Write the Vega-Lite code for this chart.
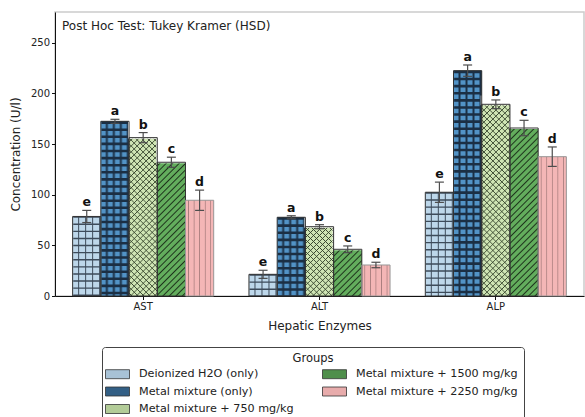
{
  "$schema": "https://vega.github.io/schema/vega-lite/v6.json",
  "width": 529,
  "height": 284,
  "autosize": {"type": "none"},
  "padding": {"left": 55, "top": 12, "right": 1, "bottom": 121},
  "background": "white",
  "title": {
    "text": "Post Hoc Test: Tukey Kramer (HSD)",
    "anchor": "start",
    "frame": "group",
    "offset": -30,
    "dx": 7,
    "baseline": "alphabetic",
    "fontSize": 12,
    "fontWeight": "normal",
    "color": "#222222"
  },
  "config": {
    "font": "DejaVu Sans",
    "view": {"stroke": "#cccccc", "strokeWidth": 1.5},
    "axis": {
      "zindex": 1,
      "domainColor": "#111111",
      "tickColor": "#111111",
      "labelColor": "#222222",
      "titleColor": "#222222",
      "labelFontSize": 10,
      "titleFontSize": 12,
      "titleFontWeight": "normal",
      "tickSize": 3.5,
      "labelPadding": 2,
      "grid": false
    },
    "legend": {
      "orient": "none",
      "legendX": 47,
      "legendY": 335,
      "columns": 2,
      "titleAnchor": "middle",
      "titleFontSize": 11.5,
      "titleFontWeight": "normal",
      "titleColor": "#222222",
      "titlePadding": 3,
      "labelFontSize": 11.2,
      "labelColor": "#222222",
      "labelLimit": 300,
      "labelOffset": 18,
      "symbolType": "M-1.5,-0.75H2.5V0.75H-1.5Z",
      "symbolSize": 144,
      "symbolStrokeColor": "#333333",
      "symbolStrokeWidth": 0.8,
      "symbolOpacity": 1,
      "columnPadding": 26,
      "rowPadding": 4.5,
      "padding": 6,
      "strokeColor": "#444444",
      "cornerRadius": 3,
      "fillColor": "white"
    }
  },
  "data": {
    "values": [
      {"enzyme": "AST", "group": "Deionized H2O (only)", "mean": 78.5, "lo": 72.5, "hi": 84.5, "letter": "e"},
      {"enzyme": "AST", "group": "Metal mixture (only)", "mean": 172.4, "lo": 170.4, "hi": 174.4, "letter": "a"},
      {"enzyme": "AST", "group": "Metal mixture + 750 mg/kg", "mean": 156.3, "lo": 151.3, "hi": 161.3, "letter": "b"},
      {"enzyme": "AST", "group": "Metal mixture + 1500 mg/kg", "mean": 132.0, "lo": 127.0, "hi": 137.0, "letter": "c"},
      {"enzyme": "AST", "group": "Metal mixture + 2250 mg/kg", "mean": 94.5, "lo": 84.5, "hi": 104.5, "letter": "d"},
      {"enzyme": "ALT", "group": "Deionized H2O (only)", "mean": 21.4, "lo": 17.4, "hi": 25.4, "letter": "e"},
      {"enzyme": "ALT", "group": "Metal mixture (only)", "mean": 77.7, "lo": 76.2, "hi": 79.2, "letter": "a"},
      {"enzyme": "ALT", "group": "Metal mixture + 750 mg/kg", "mean": 68.4, "lo": 66.4, "hi": 70.4, "letter": "b"},
      {"enzyme": "ALT", "group": "Metal mixture + 1500 mg/kg", "mean": 46.1, "lo": 42.8, "hi": 49.4, "letter": "c"},
      {"enzyme": "ALT", "group": "Metal mixture + 2250 mg/kg", "mean": 30.6, "lo": 27.9, "hi": 33.3, "letter": "d"},
      {"enzyme": "ALP", "group": "Deionized H2O (only)", "mean": 102.4, "lo": 92.4, "hi": 112.4, "letter": "e"},
      {"enzyme": "ALP", "group": "Metal mixture (only)", "mean": 222.4, "lo": 216.8, "hi": 228.0, "letter": "a"},
      {"enzyme": "ALP", "group": "Metal mixture + 750 mg/kg", "mean": 189.2, "lo": 184.9, "hi": 193.5, "letter": "b"},
      {"enzyme": "ALP", "group": "Metal mixture + 1500 mg/kg", "mean": 165.8, "lo": 158.2, "hi": 173.4, "letter": "c"},
      {"enzyme": "ALP", "group": "Metal mixture + 2250 mg/kg", "mean": 137.5, "lo": 127.9, "hi": 147.1, "letter": "d"}
    ]
  },
  "encoding": {
    "x": {
      "field": "enzyme",
      "type": "nominal",
      "sort": ["AST", "ALT", "ALP"],
      "scale": {"paddingInner": 0.2, "paddingOuter": 0.1},
      "axis": {"title": "Hepatic Enzymes", "labelAngle": 0, "titlePadding": 9}
    },
    "xOffset": {
      "field": "group",
      "type": "nominal",
      "scale": {
        "domain": ["Deionized H2O (only)", "Metal mixture (only)", "Metal mixture + 750 mg/kg", "Metal mixture + 1500 mg/kg", "Metal mixture + 2250 mg/kg"],
        "paddingInner": 0,
        "paddingOuter": 0
      }
    }
  },
  "layer": [
    {
      "mark": {"type": "bar"},
      "encoding": {
        "y": {
          "field": "mean",
          "type": "quantitative",
          "scale": {"domain": [0, 280.3], "nice": false},
          "axis": {"title": "Concentration (U/l)", "values": [0, 50, 100, 150, 200, 250], "titlePadding": 8}
        },
        "color": {
          "field": "group",
          "type": "nominal",
          "scale": {
            "domain": ["Deionized H2O (only)", "Metal mixture (only)", "Metal mixture + 750 mg/kg", "Metal mixture + 1500 mg/kg", "Metal mixture + 2250 mg/kg"],
            "range": ["#a8c2d6", "#335f85", "#b3cc98", "#4f8f4b", "#e8acac"]
          },
          "legend": {"title": "Groups"}
        }
      }
    },
    {
      "transform": [{"filter": "datum.group === 'Deionized H2O (only)'"}],
      "mark": {
        "type": "bar",
        "fill": {
          "gradient": "linear", "x1": 0, "y1": 0, "x2": 1, "y2": 0,
          "stops": [
            {"offset": 0, "color": "#bdd7ea"},
            {"offset": 0.178, "color": "#bdd7ea"}, {"offset": 0.213, "color": "#3d4b5a"}, {"offset": 0.248, "color": "#bdd7ea"},
            {"offset": 0.426, "color": "#bdd7ea"}, {"offset": 0.461, "color": "#3d4b5a"}, {"offset": 0.496, "color": "#bdd7ea"},
            {"offset": 0.674, "color": "#bdd7ea"}, {"offset": 0.709, "color": "#3d4b5a"}, {"offset": 0.744, "color": "#bdd7ea"},
            {"offset": 0.922, "color": "#bdd7ea"}, {"offset": 0.957, "color": "#3d4b5a"}, {"offset": 0.992, "color": "#bdd7ea"},
            {"offset": 1, "color": "#bdd7ea"}
          ]
        }
      },
      "encoding": {"y": {"field": "mean", "type": "quantitative"}}
    },
    {
      "transform": [{"filter": "datum.group === 'Deionized H2O (only)'"}],
      "mark": {"type": "rule", "strokeWidth": 27, "strokeDash": [1.4, 5.7], "color": "#3d4b5a"},
      "encoding": {"y": {"field": "mean", "type": "quantitative"}, "y2": {"datum": 0}}
    },
    {
      "transform": [{"filter": "datum.group === 'Metal mixture (only)'"}],
      "mark": {
        "type": "bar",
        "fill": {
          "gradient": "linear", "x1": 0, "y1": 0, "x2": 1, "y2": 0,
          "stops": [
            {"offset": 0, "color": "#5293c6"},
            {"offset": 0.143, "color": "#5293c6"}, {"offset": 0.213, "color": "#1b2f44"}, {"offset": 0.283, "color": "#5293c6"},
            {"offset": 0.391, "color": "#5293c6"}, {"offset": 0.461, "color": "#1b2f44"}, {"offset": 0.531, "color": "#5293c6"},
            {"offset": 0.639, "color": "#5293c6"}, {"offset": 0.709, "color": "#1b2f44"}, {"offset": 0.779, "color": "#5293c6"},
            {"offset": 0.887, "color": "#5293c6"}, {"offset": 0.957, "color": "#1b2f44"}, {"offset": 1, "color": "#2a4a66"}
          ]
        }
      },
      "encoding": {"y": {"field": "mean", "type": "quantitative"}}
    },
    {
      "transform": [{"filter": "datum.group === 'Metal mixture (only)'"}],
      "mark": {"type": "rule", "strokeWidth": 27, "strokeDash": [2.6, 4.5], "color": "#1b2f44"},
      "encoding": {"y": {"field": "mean", "type": "quantitative"}, "y2": {"datum": 0}}
    },
    {
      "transform": [{"filter": "datum.group === 'Metal mixture + 750 mg/kg'"}],
      "mark": {
        "type": "bar",
        "fill": {
          "gradient": "linear", "x1": 0, "y1": 0, "x2": 0.159, "y2": 1.1195,
          "stops": [
            {"offset": 0, "color": "#cfe5b4"},
            {"offset": 0.009, "color": "#cfe5b4"}, {"offset": 0.013, "color": "#36452d"}, {"offset": 0.017, "color": "#cfe5b4"},
            {"offset": 0.036, "color": "#cfe5b4"}, {"offset": 0.040, "color": "#36452d"}, {"offset": 0.044, "color": "#cfe5b4"},
            {"offset": 0.062, "color": "#cfe5b4"}, {"offset": 0.066, "color": "#36452d"}, {"offset": 0.070, "color": "#cfe5b4"},
            {"offset": 0.088, "color": "#cfe5b4"}, {"offset": 0.092, "color": "#36452d"}, {"offset": 0.096, "color": "#cfe5b4"},
            {"offset": 0.114, "color": "#cfe5b4"}, {"offset": 0.118, "color": "#36452d"}, {"offset": 0.122, "color": "#cfe5b4"},
            {"offset": 0.141, "color": "#cfe5b4"}, {"offset": 0.145, "color": "#36452d"}, {"offset": 0.149, "color": "#cfe5b4"},
            {"offset": 0.167, "color": "#cfe5b4"}, {"offset": 0.171, "color": "#36452d"}, {"offset": 0.175, "color": "#cfe5b4"},
            {"offset": 0.193, "color": "#cfe5b4"}, {"offset": 0.197, "color": "#36452d"}, {"offset": 0.201, "color": "#cfe5b4"},
            {"offset": 0.220, "color": "#cfe5b4"}, {"offset": 0.224, "color": "#36452d"}, {"offset": 0.228, "color": "#cfe5b4"},
            {"offset": 0.246, "color": "#cfe5b4"}, {"offset": 0.250, "color": "#36452d"}, {"offset": 0.254, "color": "#cfe5b4"},
            {"offset": 0.272, "color": "#cfe5b4"}, {"offset": 0.276, "color": "#36452d"}, {"offset": 0.280, "color": "#cfe5b4"},
            {"offset": 0.299, "color": "#cfe5b4"}, {"offset": 0.303, "color": "#36452d"}, {"offset": 0.307, "color": "#cfe5b4"},
            {"offset": 0.325, "color": "#cfe5b4"}, {"offset": 0.329, "color": "#36452d"}, {"offset": 0.333, "color": "#cfe5b4"},
            {"offset": 0.351, "color": "#cfe5b4"}, {"offset": 0.355, "color": "#36452d"}, {"offset": 0.359, "color": "#cfe5b4"},
            {"offset": 0.378, "color": "#cfe5b4"}, {"offset": 0.382, "color": "#36452d"}, {"offset": 0.386, "color": "#cfe5b4"},
            {"offset": 0.404, "color": "#cfe5b4"}, {"offset": 0.408, "color": "#36452d"}, {"offset": 0.412, "color": "#cfe5b4"},
            {"offset": 0.430, "color": "#cfe5b4"}, {"offset": 0.434, "color": "#36452d"}, {"offset": 0.438, "color": "#cfe5b4"},
            {"offset": 0.457, "color": "#cfe5b4"}, {"offset": 0.461, "color": "#36452d"}, {"offset": 0.465, "color": "#cfe5b4"},
            {"offset": 0.483, "color": "#cfe5b4"}, {"offset": 0.487, "color": "#36452d"}, {"offset": 0.491, "color": "#cfe5b4"},
            {"offset": 0.509, "color": "#cfe5b4"}, {"offset": 0.513, "color": "#36452d"}, {"offset": 0.517, "color": "#cfe5b4"},
            {"offset": 0.536, "color": "#cfe5b4"}, {"offset": 0.540, "color": "#36452d"}, {"offset": 0.544, "color": "#cfe5b4"},
            {"offset": 0.562, "color": "#cfe5b4"}, {"offset": 0.566, "color": "#36452d"}, {"offset": 0.570, "color": "#cfe5b4"},
            {"offset": 0.588, "color": "#cfe5b4"}, {"offset": 0.592, "color": "#36452d"}, {"offset": 0.596, "color": "#cfe5b4"},
            {"offset": 0.614, "color": "#cfe5b4"}, {"offset": 0.618, "color": "#36452d"}, {"offset": 0.622, "color": "#cfe5b4"},
            {"offset": 0.641, "color": "#cfe5b4"}, {"offset": 0.645, "color": "#36452d"}, {"offset": 0.649, "color": "#cfe5b4"},
            {"offset": 0.667, "color": "#cfe5b4"}, {"offset": 0.671, "color": "#36452d"}, {"offset": 0.675, "color": "#cfe5b4"},
            {"offset": 0.693, "color": "#cfe5b4"}, {"offset": 0.697, "color": "#36452d"}, {"offset": 0.701, "color": "#cfe5b4"},
            {"offset": 0.720, "color": "#cfe5b4"}, {"offset": 0.724, "color": "#36452d"}, {"offset": 0.728, "color": "#cfe5b4"},
            {"offset": 0.746, "color": "#cfe5b4"}, {"offset": 0.750, "color": "#36452d"}, {"offset": 0.754, "color": "#cfe5b4"},
            {"offset": 0.772, "color": "#cfe5b4"}, {"offset": 0.776, "color": "#36452d"}, {"offset": 0.780, "color": "#cfe5b4"},
            {"offset": 0.799, "color": "#cfe5b4"}, {"offset": 0.803, "color": "#36452d"}, {"offset": 0.807, "color": "#cfe5b4"},
            {"offset": 0.825, "color": "#cfe5b4"}, {"offset": 0.829, "color": "#36452d"}, {"offset": 0.833, "color": "#cfe5b4"},
            {"offset": 0.851, "color": "#cfe5b4"}, {"offset": 0.855, "color": "#36452d"}, {"offset": 0.859, "color": "#cfe5b4"},
            {"offset": 0.878, "color": "#cfe5b4"}, {"offset": 0.882, "color": "#36452d"}, {"offset": 0.886, "color": "#cfe5b4"},
            {"offset": 0.904, "color": "#cfe5b4"}, {"offset": 0.908, "color": "#36452d"}, {"offset": 0.912, "color": "#cfe5b4"},
            {"offset": 0.930, "color": "#cfe5b4"}, {"offset": 0.934, "color": "#36452d"}, {"offset": 0.938, "color": "#cfe5b4"},
            {"offset": 0.957, "color": "#cfe5b4"}, {"offset": 0.961, "color": "#36452d"}, {"offset": 0.965, "color": "#cfe5b4"},
            {"offset": 0.983, "color": "#cfe5b4"}, {"offset": 0.987, "color": "#36452d"}, {"offset": 0.991, "color": "#cfe5b4"},
            {"offset": 1, "color": "#cfe5b4"}
          ]
        }
      },
      "encoding": {"y": {"datum": 196, "type": "quantitative"}, "y2": {"datum": 0}}
    },
    {
      "transform": [{"filter": "datum.group === 'Metal mixture + 750 mg/kg'"}],
      "mark": {
        "type": "bar",
        "fill": {
          "gradient": "linear", "x1": 0, "y1": 1, "x2": 0.159, "y2": -0.1195,
          "stops": [
            {"offset": 0, "color": "rgba(54,69,45,0)"},
            {"offset": 0.009, "color": "rgba(54,69,45,0)"}, {"offset": 0.013, "color": "#36452d"}, {"offset": 0.017, "color": "rgba(54,69,45,0)"},
            {"offset": 0.036, "color": "rgba(54,69,45,0)"}, {"offset": 0.040, "color": "#36452d"}, {"offset": 0.044, "color": "rgba(54,69,45,0)"},
            {"offset": 0.062, "color": "rgba(54,69,45,0)"}, {"offset": 0.066, "color": "#36452d"}, {"offset": 0.070, "color": "rgba(54,69,45,0)"},
            {"offset": 0.088, "color": "rgba(54,69,45,0)"}, {"offset": 0.092, "color": "#36452d"}, {"offset": 0.096, "color": "rgba(54,69,45,0)"},
            {"offset": 0.114, "color": "rgba(54,69,45,0)"}, {"offset": 0.118, "color": "#36452d"}, {"offset": 0.122, "color": "rgba(54,69,45,0)"},
            {"offset": 0.141, "color": "rgba(54,69,45,0)"}, {"offset": 0.145, "color": "#36452d"}, {"offset": 0.149, "color": "rgba(54,69,45,0)"},
            {"offset": 0.167, "color": "rgba(54,69,45,0)"}, {"offset": 0.171, "color": "#36452d"}, {"offset": 0.175, "color": "rgba(54,69,45,0)"},
            {"offset": 0.193, "color": "rgba(54,69,45,0)"}, {"offset": 0.197, "color": "#36452d"}, {"offset": 0.201, "color": "rgba(54,69,45,0)"},
            {"offset": 0.220, "color": "rgba(54,69,45,0)"}, {"offset": 0.224, "color": "#36452d"}, {"offset": 0.228, "color": "rgba(54,69,45,0)"},
            {"offset": 0.246, "color": "rgba(54,69,45,0)"}, {"offset": 0.250, "color": "#36452d"}, {"offset": 0.254, "color": "rgba(54,69,45,0)"},
            {"offset": 0.272, "color": "rgba(54,69,45,0)"}, {"offset": 0.276, "color": "#36452d"}, {"offset": 0.280, "color": "rgba(54,69,45,0)"},
            {"offset": 0.299, "color": "rgba(54,69,45,0)"}, {"offset": 0.303, "color": "#36452d"}, {"offset": 0.307, "color": "rgba(54,69,45,0)"},
            {"offset": 0.325, "color": "rgba(54,69,45,0)"}, {"offset": 0.329, "color": "#36452d"}, {"offset": 0.333, "color": "rgba(54,69,45,0)"},
            {"offset": 0.351, "color": "rgba(54,69,45,0)"}, {"offset": 0.355, "color": "#36452d"}, {"offset": 0.359, "color": "rgba(54,69,45,0)"},
            {"offset": 0.378, "color": "rgba(54,69,45,0)"}, {"offset": 0.382, "color": "#36452d"}, {"offset": 0.386, "color": "rgba(54,69,45,0)"},
            {"offset": 0.404, "color": "rgba(54,69,45,0)"}, {"offset": 0.408, "color": "#36452d"}, {"offset": 0.412, "color": "rgba(54,69,45,0)"},
            {"offset": 0.430, "color": "rgba(54,69,45,0)"}, {"offset": 0.434, "color": "#36452d"}, {"offset": 0.438, "color": "rgba(54,69,45,0)"},
            {"offset": 0.457, "color": "rgba(54,69,45,0)"}, {"offset": 0.461, "color": "#36452d"}, {"offset": 0.465, "color": "rgba(54,69,45,0)"},
            {"offset": 0.483, "color": "rgba(54,69,45,0)"}, {"offset": 0.487, "color": "#36452d"}, {"offset": 0.491, "color": "rgba(54,69,45,0)"},
            {"offset": 0.509, "color": "rgba(54,69,45,0)"}, {"offset": 0.513, "color": "#36452d"}, {"offset": 0.517, "color": "rgba(54,69,45,0)"},
            {"offset": 0.536, "color": "rgba(54,69,45,0)"}, {"offset": 0.540, "color": "#36452d"}, {"offset": 0.544, "color": "rgba(54,69,45,0)"},
            {"offset": 0.562, "color": "rgba(54,69,45,0)"}, {"offset": 0.566, "color": "#36452d"}, {"offset": 0.570, "color": "rgba(54,69,45,0)"},
            {"offset": 0.588, "color": "rgba(54,69,45,0)"}, {"offset": 0.592, "color": "#36452d"}, {"offset": 0.596, "color": "rgba(54,69,45,0)"},
            {"offset": 0.614, "color": "rgba(54,69,45,0)"}, {"offset": 0.618, "color": "#36452d"}, {"offset": 0.622, "color": "rgba(54,69,45,0)"},
            {"offset": 0.641, "color": "rgba(54,69,45,0)"}, {"offset": 0.645, "color": "#36452d"}, {"offset": 0.649, "color": "rgba(54,69,45,0)"},
            {"offset": 0.667, "color": "rgba(54,69,45,0)"}, {"offset": 0.671, "color": "#36452d"}, {"offset": 0.675, "color": "rgba(54,69,45,0)"},
            {"offset": 0.693, "color": "rgba(54,69,45,0)"}, {"offset": 0.697, "color": "#36452d"}, {"offset": 0.701, "color": "rgba(54,69,45,0)"},
            {"offset": 0.720, "color": "rgba(54,69,45,0)"}, {"offset": 0.724, "color": "#36452d"}, {"offset": 0.728, "color": "rgba(54,69,45,0)"},
            {"offset": 0.746, "color": "rgba(54,69,45,0)"}, {"offset": 0.750, "color": "#36452d"}, {"offset": 0.754, "color": "rgba(54,69,45,0)"},
            {"offset": 0.772, "color": "rgba(54,69,45,0)"}, {"offset": 0.776, "color": "#36452d"}, {"offset": 0.780, "color": "rgba(54,69,45,0)"},
            {"offset": 0.799, "color": "rgba(54,69,45,0)"}, {"offset": 0.803, "color": "#36452d"}, {"offset": 0.807, "color": "rgba(54,69,45,0)"},
            {"offset": 0.825, "color": "rgba(54,69,45,0)"}, {"offset": 0.829, "color": "#36452d"}, {"offset": 0.833, "color": "rgba(54,69,45,0)"},
            {"offset": 0.851, "color": "rgba(54,69,45,0)"}, {"offset": 0.855, "color": "#36452d"}, {"offset": 0.859, "color": "rgba(54,69,45,0)"},
            {"offset": 0.878, "color": "rgba(54,69,45,0)"}, {"offset": 0.882, "color": "#36452d"}, {"offset": 0.886, "color": "rgba(54,69,45,0)"},
            {"offset": 0.904, "color": "rgba(54,69,45,0)"}, {"offset": 0.908, "color": "#36452d"}, {"offset": 0.912, "color": "rgba(54,69,45,0)"},
            {"offset": 0.930, "color": "rgba(54,69,45,0)"}, {"offset": 0.934, "color": "#36452d"}, {"offset": 0.938, "color": "rgba(54,69,45,0)"},
            {"offset": 0.957, "color": "rgba(54,69,45,0)"}, {"offset": 0.961, "color": "#36452d"}, {"offset": 0.965, "color": "rgba(54,69,45,0)"},
            {"offset": 0.983, "color": "rgba(54,69,45,0)"}, {"offset": 0.987, "color": "#36452d"}, {"offset": 0.991, "color": "rgba(54,69,45,0)"},
            {"offset": 1, "color": "rgba(54,69,45,0)"}
          ]
        }
      },
      "encoding": {"y": {"datum": 196, "type": "quantitative"}, "y2": {"datum": 0}}
    },
    {
      "transform": [{"filter": "datum.group === 'Metal mixture + 750 mg/kg'"}],
      "mark": {"type": "bar", "color": "white", "stroke": "white", "strokeWidth": 2},
      "encoding": {"y": {"field": "mean", "type": "quantitative"}, "y2": {"datum": 197}}
    },
    {
      "transform": [{"filter": "datum.group === 'Metal mixture + 1500 mg/kg'"}],
      "mark": {
        "type": "bar",
        "fill": {
          "gradient": "linear", "x1": 0, "y1": 0, "x2": 0.1856, "y2": 1.1334,
          "stops": [
            {"offset": 0, "color": "#63ad5d"},
            {"offset": 0.009, "color": "#63ad5d"}, {"offset": 0.016, "color": "#1e331c"}, {"offset": 0.023, "color": "#63ad5d"},
            {"offset": 0.041, "color": "#63ad5d"}, {"offset": 0.048, "color": "#1e331c"}, {"offset": 0.055, "color": "#63ad5d"},
            {"offset": 0.074, "color": "#63ad5d"}, {"offset": 0.081, "color": "#1e331c"}, {"offset": 0.088, "color": "#63ad5d"},
            {"offset": 0.106, "color": "#63ad5d"}, {"offset": 0.113, "color": "#1e331c"}, {"offset": 0.120, "color": "#63ad5d"},
            {"offset": 0.138, "color": "#63ad5d"}, {"offset": 0.145, "color": "#1e331c"}, {"offset": 0.152, "color": "#63ad5d"},
            {"offset": 0.170, "color": "#63ad5d"}, {"offset": 0.177, "color": "#1e331c"}, {"offset": 0.184, "color": "#63ad5d"},
            {"offset": 0.203, "color": "#63ad5d"}, {"offset": 0.210, "color": "#1e331c"}, {"offset": 0.217, "color": "#63ad5d"},
            {"offset": 0.235, "color": "#63ad5d"}, {"offset": 0.242, "color": "#1e331c"}, {"offset": 0.249, "color": "#63ad5d"},
            {"offset": 0.267, "color": "#63ad5d"}, {"offset": 0.274, "color": "#1e331c"}, {"offset": 0.281, "color": "#63ad5d"},
            {"offset": 0.300, "color": "#63ad5d"}, {"offset": 0.307, "color": "#1e331c"}, {"offset": 0.314, "color": "#63ad5d"},
            {"offset": 0.332, "color": "#63ad5d"}, {"offset": 0.339, "color": "#1e331c"}, {"offset": 0.346, "color": "#63ad5d"},
            {"offset": 0.364, "color": "#63ad5d"}, {"offset": 0.371, "color": "#1e331c"}, {"offset": 0.378, "color": "#63ad5d"},
            {"offset": 0.396, "color": "#63ad5d"}, {"offset": 0.403, "color": "#1e331c"}, {"offset": 0.410, "color": "#63ad5d"},
            {"offset": 0.429, "color": "#63ad5d"}, {"offset": 0.436, "color": "#1e331c"}, {"offset": 0.443, "color": "#63ad5d"},
            {"offset": 0.461, "color": "#63ad5d"}, {"offset": 0.468, "color": "#1e331c"}, {"offset": 0.475, "color": "#63ad5d"},
            {"offset": 0.493, "color": "#63ad5d"}, {"offset": 0.500, "color": "#1e331c"}, {"offset": 0.507, "color": "#63ad5d"},
            {"offset": 0.525, "color": "#63ad5d"}, {"offset": 0.532, "color": "#1e331c"}, {"offset": 0.539, "color": "#63ad5d"},
            {"offset": 0.558, "color": "#63ad5d"}, {"offset": 0.565, "color": "#1e331c"}, {"offset": 0.572, "color": "#63ad5d"},
            {"offset": 0.590, "color": "#63ad5d"}, {"offset": 0.597, "color": "#1e331c"}, {"offset": 0.604, "color": "#63ad5d"},
            {"offset": 0.622, "color": "#63ad5d"}, {"offset": 0.629, "color": "#1e331c"}, {"offset": 0.636, "color": "#63ad5d"},
            {"offset": 0.654, "color": "#63ad5d"}, {"offset": 0.661, "color": "#1e331c"}, {"offset": 0.668, "color": "#63ad5d"},
            {"offset": 0.687, "color": "#63ad5d"}, {"offset": 0.694, "color": "#1e331c"}, {"offset": 0.701, "color": "#63ad5d"},
            {"offset": 0.719, "color": "#63ad5d"}, {"offset": 0.726, "color": "#1e331c"}, {"offset": 0.733, "color": "#63ad5d"},
            {"offset": 0.751, "color": "#63ad5d"}, {"offset": 0.758, "color": "#1e331c"}, {"offset": 0.765, "color": "#63ad5d"},
            {"offset": 0.783, "color": "#63ad5d"}, {"offset": 0.790, "color": "#1e331c"}, {"offset": 0.797, "color": "#63ad5d"},
            {"offset": 0.816, "color": "#63ad5d"}, {"offset": 0.823, "color": "#1e331c"}, {"offset": 0.830, "color": "#63ad5d"},
            {"offset": 0.848, "color": "#63ad5d"}, {"offset": 0.855, "color": "#1e331c"}, {"offset": 0.862, "color": "#63ad5d"},
            {"offset": 0.880, "color": "#63ad5d"}, {"offset": 0.887, "color": "#1e331c"}, {"offset": 0.894, "color": "#63ad5d"},
            {"offset": 0.912, "color": "#63ad5d"}, {"offset": 0.919, "color": "#1e331c"}, {"offset": 0.926, "color": "#63ad5d"},
            {"offset": 0.945, "color": "#63ad5d"}, {"offset": 0.952, "color": "#1e331c"}, {"offset": 0.959, "color": "#63ad5d"},
            {"offset": 0.977, "color": "#63ad5d"}, {"offset": 0.984, "color": "#1e331c"}, {"offset": 0.991, "color": "#63ad5d"},
            {"offset": 1, "color": "#63ad5d"}
          ]
        }
      },
      "encoding": {"y": {"datum": 170, "type": "quantitative"}, "y2": {"datum": 0}}
    },
    {
      "transform": [{"filter": "datum.group === 'Metal mixture + 1500 mg/kg'"}],
      "mark": {"type": "bar", "color": "white", "stroke": "white", "strokeWidth": 2},
      "encoding": {"y": {"field": "mean", "type": "quantitative"}, "y2": {"datum": 171}}
    },
    {
      "transform": [{"filter": "datum.group === 'Metal mixture + 2250 mg/kg'"}],
      "mark": {
        "type": "bar",
        "fill": {
          "gradient": "linear", "x1": 0, "y1": 0, "x2": 1, "y2": 0,
          "stops": [
            {"offset": 0, "color": "#f4b6b6"},
            {"offset": 0.078, "color": "#f4b6b6"}, {"offset": 0.106, "color": "#a77c7c"}, {"offset": 0.134, "color": "#f4b6b6"},
            {"offset": 0.277, "color": "#f4b6b6"}, {"offset": 0.305, "color": "#a77c7c"}, {"offset": 0.333, "color": "#f4b6b6"},
            {"offset": 0.472, "color": "#f4b6b6"}, {"offset": 0.5, "color": "#a77c7c"}, {"offset": 0.528, "color": "#f4b6b6"},
            {"offset": 0.671, "color": "#f4b6b6"}, {"offset": 0.699, "color": "#a77c7c"}, {"offset": 0.727, "color": "#f4b6b6"},
            {"offset": 0.866, "color": "#f4b6b6"}, {"offset": 0.894, "color": "#a77c7c"}, {"offset": 0.922, "color": "#f4b6b6"},
            {"offset": 1, "color": "#f4b6b6"}
          ]
        }
      },
      "encoding": {"y": {"field": "mean", "type": "quantitative"}}
    },
    {
      "mark": {"type": "bar", "filled": false, "strokeWidth": 1},
      "encoding": {
        "y": {"field": "mean", "type": "quantitative"},
        "stroke": {
          "condition": {"test": "datum.group === 'Metal mixture + 2250 mg/kg'", "value": "#999999"},
          "value": "#333333"
        }
      }
    },
    {
      "mark": {"type": "rule", "color": "#4d4d4d", "strokeWidth": 1.2},
      "encoding": {"y": {"field": "lo", "type": "quantitative"}, "y2": {"field": "hi"}}
    },
    {
      "mark": {"type": "tick", "orient": "horizontal", "size": 9, "thickness": 1.2, "color": "#4d4d4d", "opacity": 1},
      "encoding": {"y": {"field": "lo", "type": "quantitative"}}
    },
    {
      "mark": {"type": "tick", "orient": "horizontal", "size": 9, "thickness": 1.2, "color": "#4d4d4d", "opacity": 1},
      "encoding": {"y": {"field": "hi", "type": "quantitative"}}
    },
    {
      "mark": {"type": "text", "baseline": "alphabetic", "dy": -4, "fontSize": 12.5, "fontWeight": "bold", "color": "#111111"},
      "encoding": {"y": {"field": "hi", "type": "quantitative"}, "text": {"field": "letter"}}
    }
  ]
}
